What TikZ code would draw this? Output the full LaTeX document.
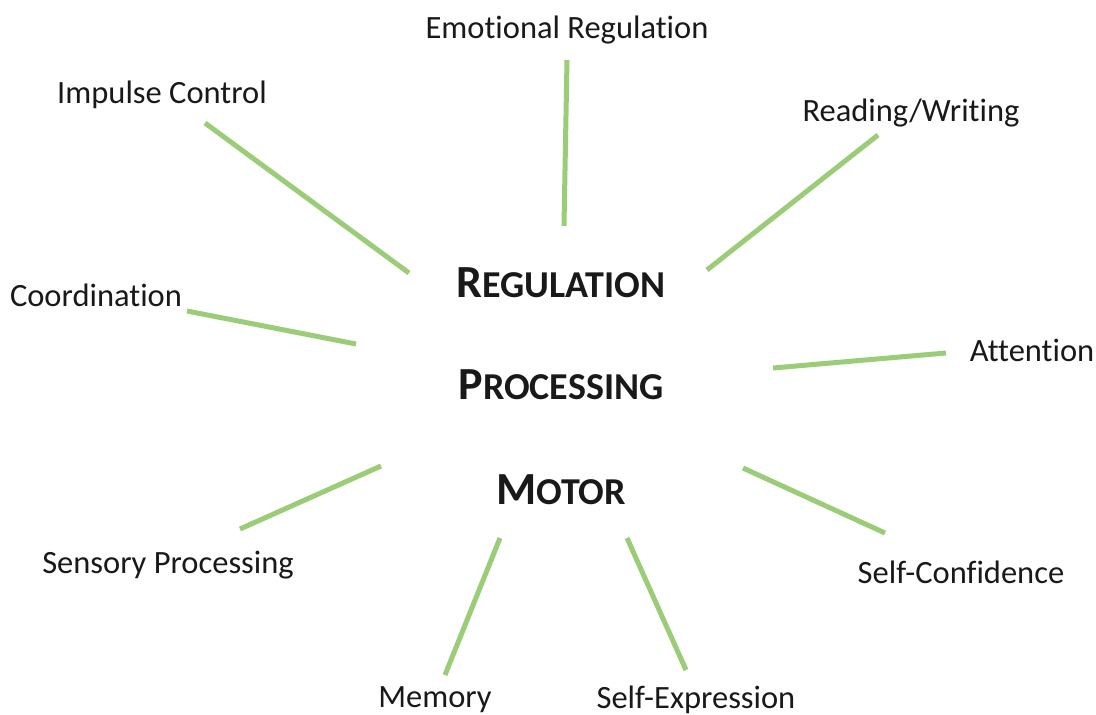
\documentclass[tikz,border=0pt]{standalone}
\usepackage{fontspec}
\setmainfont{Carlito}[Ligatures=NoCommon]
\begin{document}
\begin{tikzpicture}[x=1pt,y=-1pt,
  label/.style={font=\fontsize{32.5}{36}\selectfont, text=black!90, inner sep=0pt},
  core/.style={font=\fontsize{46}{50}\selectfont\bfseries, text=black!90, inner sep=0pt},
  spoke/.style={draw={rgb,255:red,155;green,205;blue,120}, line width=5pt}]
\newcommand{\smc}[2]{#1{\fontsize{38}{42}\selectfont #2}}
\fill[white] (0,0) rectangle (1096,715);
\useasboundingbox (0,0) rectangle (1096,715);

% centre words
\node[core] (reg) at (561,283) {\smc{R}{EGULATION}};
\node[core] (proc) at (561,385) {\smc{P}{ROCESSING}};
\node[core] (mot) at (561,490) {\smc{M}{OTOR}};

% outer labels
\node[label] (emo) at (567,30) {Emotional Regulation};
\node[label] (imp) at (162,95) {Impulse Control};
\node[label] (rw) at (911,113) {Reading/Writing};
\node[label] (coo) at (96,295) {Coordination};
\node[label] (att) at (1032,350) {Attention};
\node[label] (sen) at (168,565) {Sensory Processing};
\node[label] (sc) at (961,572) {Self-Confidence};
\node[label] (mem) at (435,700) {Memory};
\node[label] (se) at (696,700) {Self-Expression};

% spoke end points
\coordinate (emoA) at (567,60);  \coordinate (emoB) at (564,226);
\coordinate (impA) at (205,123); \coordinate (impB) at (409,273);
\coordinate (rwA) at (878,135);  \coordinate (rwB) at (707,270);
\coordinate (cooA) at (187,311); \coordinate (cooB) at (356,344);
\coordinate (attA) at (946,353); \coordinate (attB) at (773,368);
\coordinate (senA) at (240,529); \coordinate (senB) at (381,466);
\coordinate (scA) at (885,533);  \coordinate (scB) at (743,468);
\coordinate (memA) at (445,675); \coordinate (memB) at (500,538);
\coordinate (seA) at (686,670);  \coordinate (seB) at (627,538);

\foreach \s in {emo,imp,rw,coo,att,sen,sc,mem,se}
  \draw[spoke] (\s A) -- (\s B);
\end{tikzpicture}
\end{document}
